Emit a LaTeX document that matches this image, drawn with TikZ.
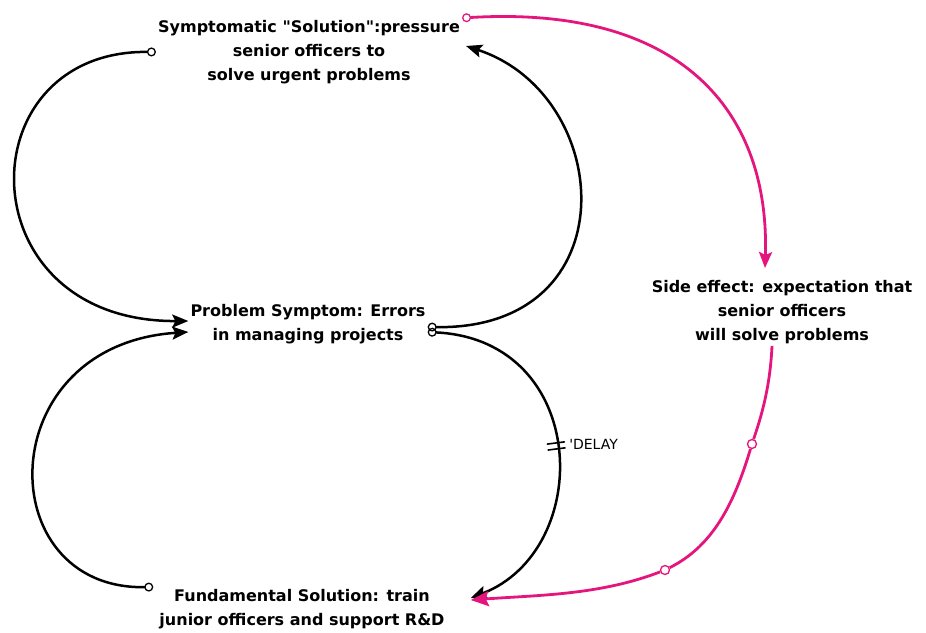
\documentclass[tikz,border=0pt]{standalone}
\usepackage{fontspec}
\setmainfont{DejaVu Sans}
\usetikzlibrary{arrows.meta,decorations.markings}
\definecolor{sidepink}{RGB}{228,22,126}
\begin{document}
\begin{tikzpicture}[x=1pt,y=-1pt,
  var/.style={align=center, inner sep=2pt, font=\bfseries\fontsize{16}{24}\selectfont},
  link/.style={line width=2.5pt, {Circle[open,length=9pt,line width=1.3pt]}-{Stealth[length=16pt,width=13pt,inset=3pt]}},
  sidelink/.style={link, draw=sidepink, line width=2.8pt},
  waypt/.style={circle, draw=sidepink, fill=white, line width=1.3pt, inner sep=0pt, minimum size=9pt}]
\useasboundingbox (0,0) rectangle (926,632);
\node[var] (sym) at (309,52) {Symptomatic \textquotedbl Solution\textquotedbl:pressure\\senior officers to\\solve urgent problems};
\node[var] (prob) at (308,324) {Problem Symptom: Errors\\in managing projects};
\node[var] (fund) at (302,609) {Fundamental Solution: train\\junior officers and support R\&D};
\node[var] (side) at (782,312) {Side effect: expectation that\\senior officers\\will solve problems};
\node[waypt] (w1) at (752,444) {};
\node[waypt] (w2) at (665,570) {};

\draw[link] (sym.west) .. controls (-35,50) and (-35,322) .. ([yshift=3pt]prob.west);
\draw[link] ([yshift=-3pt]prob.east) .. controls (630,330) and (615,95) .. ([xshift=4pt,yshift=6pt]sym.east);
\draw[link, postaction={decorate, decoration={markings, mark=at position 0.5 with {\draw[-, line width=1.6pt] (-3pt,-9pt)--(-3pt,9pt) (3pt,-9pt)--(3pt,9pt);}}}]
  ([yshift=-8pt]prob.east) .. controls (590,340) and (595,550) .. node[pos=0.5, right=8pt, yshift=6pt, font=\fontsize{14}{16}\selectfont] (dly) {\textquotesingle DELAY} ([xshift=24pt,yshift=11pt]fund.east);
\draw[link] ([xshift=-4pt]fund.north west) .. controls (-10,590) and (-10,345) .. ([yshift=-8pt]prob.west);
\draw[sidelink] (sym.north east) .. controls (680,5) and (770,110) .. ([xshift=-17pt,yshift=10pt]side.north);
\draw[sidelink, -] ([xshift=-10pt]side.south) .. controls (770,390) and (760,420) .. (w1);
\draw[sidelink, -] (w1) .. controls (735,500) and (715,545) .. (w2);
\draw[sidelink, {}-{Stealth[length=18pt,width=15pt,inset=3pt]}] (w2) .. controls (600,595) and (540,595) .. ([xshift=24pt,yshift=9pt]fund.east);
\end{tikzpicture}
\end{document}
